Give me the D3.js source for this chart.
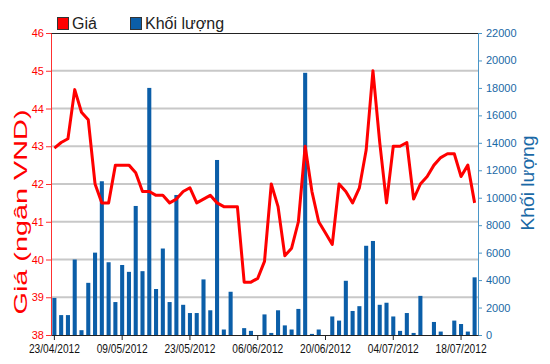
<!DOCTYPE html>
<meta charset="utf-8">
<style>
    body { margin: 0; background: #fff; }
    svg { font-family: "Liberation Sans", Arial, sans-serif; }
    .grid line { stroke: #c8c8c8; stroke-width: 2; }
</style>
<body>
<script src="https://d3js.org/d3.v7.min.js"></script>
<script>
    // trading days (HOSE, 23/04 -> 20/07/2012)
    var dates = ["23/04/2012","24/04/2012","25/04/2012","26/04/2012","27/04/2012",
        "02/05/2012","03/05/2012","04/05/2012","07/05/2012","08/05/2012",
        "09/05/2012","10/05/2012","11/05/2012","14/05/2012","15/05/2012",
        "16/05/2012","17/05/2012","18/05/2012","21/05/2012","22/05/2012",
        "23/05/2012","24/05/2012","25/05/2012","28/05/2012","29/05/2012",
        "30/05/2012","31/05/2012","01/06/2012","04/06/2012","05/06/2012",
        "06/06/2012","07/06/2012","08/06/2012","11/06/2012","12/06/2012",
        "13/06/2012","14/06/2012","15/06/2012","18/06/2012","19/06/2012",
        "20/06/2012","21/06/2012","22/06/2012","25/06/2012","26/06/2012",
        "27/06/2012","28/06/2012","29/06/2012","02/07/2012","03/07/2012",
        "04/07/2012","05/07/2012","06/07/2012","09/07/2012","10/07/2012",
        "11/07/2012","12/07/2012","13/07/2012","16/07/2012","17/07/2012",
        "18/07/2012","19/07/2012","20/07/2012"];

    var gia = [42.95,43.1,43.2,44.5,43.9,43.7,42.0,41.5,41.5,42.5,
        42.5,42.5,42.3,41.8,41.8,41.7,41.7,41.5,41.6,41.8,
        41.9,41.5,41.6,41.7,41.5,41.4,41.4,41.4,39.4,39.4,
        39.5,39.95,42.0,41.4,40.1,40.3,41.0,43.0,41.8,41.0,
        40.7,40.4,42.0,41.8,41.5,41.9,42.9,45.0,43.1,41.5,
        43.0,43.0,43.1,41.6,42.0,42.2,42.5,42.7,42.8,42.8,
        42.2,42.5,41.5];

    var khoiLuong = [2700,1450,1450,5500,350,3800,6000,11200,5300,2400,
        5100,4600,9400,4650,18000,3350,6300,2400,10200,2200,
        1600,1600,4050,1800,12750,400,3150,0,500,300,
        0,1500,150,1800,700,400,1900,19100,80,400,
        0,1350,1050,3950,1750,2100,6500,6850,2200,2350,
        1350,300,1600,150,2850,0,950,250,0,1050,
        800,250,4200];

    var giaTicks = [38,39,40,41,42,43,44,45,46];
    var klTicks = [0,2000,4000,6000,8000,10000,12000,14000,16000,18000,20000,22000];
    var dateTicks = ["23/04/2012","09/05/2012","23/05/2012","06/06/2012","20/06/2012","04/07/2012","18/07/2012"];

    var W = 550, H = 364;
    var pLeft = 51, pRight = 478, pTop = 33, pBottom = 335;

    var svg = d3.select("body").append("svg")
        .attr("width", W).attr("height", H);

    var x = d3.scaleBand().domain(dates).range([pLeft, pRight]).paddingInner(0.4).paddingOuter(0.2);
    var yG = d3.scaleLinear().domain([38, 46]).range([pBottom, pTop]);
    var yK = d3.scaleLinear().domain([0, 22000]).range([pBottom, pTop]);

    // grid
    svg.append("g").attr("class", "grid")
        .selectAll("line").data(giaTicks.slice(1, -1)).enter().append("line")
        .attr("x1", pLeft).attr("x2", pRight)
        .attr("y1", function (d) { return yG(d); })
        .attr("y2", function (d) { return yG(d); });

    // top border
    svg.append("line").attr("x1", pLeft).attr("x2", pRight)
        .attr("y1", pTop + 0.5).attr("y2", pTop + 0.5)
        .attr("stroke", "#222").attr("stroke-width", 1);

    // bars
    svg.append("g").selectAll("rect").data(khoiLuong).enter().append("rect")
        .attr("x", function (d, i) { return x(dates[i]); })
        .attr("y", function (d) { return yK(d); })
        .attr("width", x.bandwidth())
        .attr("height", function (d) { return pBottom - yK(d); })
        .attr("fill", "#0b5ea8");

    // price line
    var line = d3.line()
        .x(function (d, i) { return x(dates[i]) + x.bandwidth() / 2; })
        .y(function (d) { return yG(d); });
    svg.append("path").datum(gia)
        .attr("d", line)
        .attr("fill", "none")
        .attr("stroke", "#ff0000")
        .attr("stroke-width", 3)
        .attr("stroke-linejoin", "round");

    // left axis
    var axL = svg.append("g").attr("transform", "translate(" + pLeft + ",0)")
        .call(d3.axisLeft(yG).tickValues(giaTicks).tickSize(5).tickSizeOuter(0).tickPadding(2));
    axL.select(".domain").attr("stroke", "#ff3030");
    axL.selectAll(".tick line").attr("stroke", "#ff3030");
    axL.selectAll("text").attr("fill", "#ff0000").style("font-size", "11px");

    // right axis
    var axR = svg.append("g").attr("transform", "translate(" + pRight + ",0)")
        .call(d3.axisRight(yK).tickValues(klTicks).tickFormat(d3.format("d"))
            .tickSize(4).tickSizeOuter(0).tickPadding(4));
    axR.select(".domain").attr("stroke", "#4a96c8");
    axR.selectAll(".tick line").attr("stroke", "#4a96c8");
    axR.selectAll("text").attr("fill", "#1a69a6").style("font-size", "11px");

    // bottom axis
    var axB = svg.append("g").attr("transform", "translate(0," + pBottom + ")")
        .call(d3.axisBottom(x).tickValues(dateTicks).tickSize(5).tickSizeOuter(0).tickPadding(4));
    axB.select(".domain").attr("stroke", "#222");
    axB.selectAll(".tick line").attr("stroke", "#222");
    axB.selectAll("text").attr("fill", "#111").style("font-size", "13px")
        .attr("textLength", 51).attr("lengthAdjust", "spacingAndGlyphs");

    // axis titles
    svg.append("text")
        .attr("transform", "translate(27,212) rotate(-90)")
        .attr("text-anchor", "middle")
        .attr("fill", "#ff0000")
        .style("font-size", "19px")
        .attr("textLength", 205).attr("lengthAdjust", "spacingAndGlyphs")
        .text("Giá (ngân VND)");
    svg.append("text")
        .attr("transform", "translate(534,183) rotate(-90)")
        .attr("text-anchor", "middle")
        .attr("fill", "#1a69a6")
        .style("font-size", "18px")
        .attr("textLength", 95).attr("lengthAdjust", "spacingAndGlyphs")
        .text("Khối lượng");

    // legend
    var legend = [{ name: "Giá", color: "#ff0000", x: 57 }, { name: "Khối lượng", color: "#0b5ea8", x: 130 }];
    var lg = svg.append("g").selectAll("g").data(legend).enter().append("g")
        .attr("transform", function (d) { return "translate(" + d.x + ",17)"; });
    lg.append("rect").attr("x", 0.5).attr("y", 0.5).attr("width", 11).attr("height", 12)
        .attr("fill", function (d) { return d.color; })
        .attr("stroke", "#333");
    lg.append("text").attr("x", 15).attr("y", 12)
        .style("font-size", "16px").attr("fill", "#222")
        .text(function (d) { return d.name; });
</script>
</body>
